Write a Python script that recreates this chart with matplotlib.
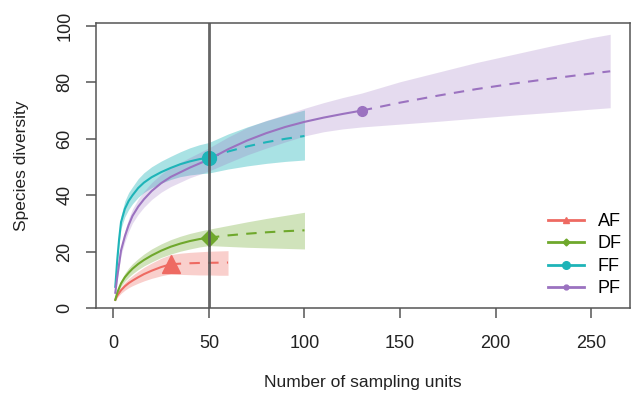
import numpy as np
import matplotlib
matplotlib.use("Agg")
import matplotlib.pyplot as plt
from matplotlib.lines import Line2D

plt.rcParams['font.family'] = ['Liberation Sans', 'DejaVu Sans']

# --- data: rarefaction (solid) up to the observed size, extrapolation (dashed) after ---
labels = ["AF", "DF", "FF", "PF"]
colors = ["#EE6A62", "#6FA82C", "#1EB4B8", "#9B72C0"]
band_alpha = [0.32, 0.32, 0.38, 0.25]
n_obs = [30, 50, 50, 130]

af_x = [1, 2, 4, 6, 8, 10, 13, 16, 20, 25, 30, 35, 40, 45, 50, 55, 60]
af_y = [3.0, 4.5, 6.4, 7.8, 8.9, 9.8, 11.0, 12.1, 13.3, 14.6, 15.6, 15.8, 15.95, 16.05, 16.1, 16.15, 16.2]
af_lo = [2.6, 3.8, 5.3, 6.4, 7.3, 8.0, 8.9, 9.7, 10.6, 11.5, 12.2, 12.0, 11.9, 11.8, 11.8, 11.7, 11.7]
af_hi = [3.4, 5.2, 7.5, 9.2, 10.5, 11.6, 13.1, 14.5, 16.0, 17.7, 19.0, 19.5, 19.8, 20.0, 20.2, 20.3, 20.4]

df_x = [1, 2, 4, 6, 8, 10, 13, 16, 20, 25, 30, 35, 40, 45, 50, 60, 70, 80, 90, 100]
df_y = [3.0, 5.5, 8.8, 11.0, 12.6, 14.0, 15.7, 17.1, 18.7, 20.4, 21.8, 22.9, 23.8, 24.5, 25.0,
        25.8, 26.4, 26.9, 27.3, 27.6]
df_lo = [2.6, 4.9, 7.8, 9.6, 11.0, 12.2, 13.7, 15.0, 16.4, 18.0, 19.2, 20.2, 21.0, 21.7, 22.2,
         21.9, 21.6, 21.4, 21.2, 21.0]
df_hi = [3.4, 6.2, 9.9, 12.4, 14.3, 15.8, 17.6, 19.2, 21.0, 22.8, 24.3, 25.5, 26.5, 27.3, 28.0,
         29.3, 30.6, 31.8, 32.9, 34.0]

ff_x = [1, 2, 3, 4, 6, 8, 10, 13, 16, 20, 25, 30, 35, 40, 45, 50, 60, 70, 80, 90, 100]
ff_y = [7.6, 17.0, 24.5, 30.5, 35.2, 38.0, 40.0, 42.6, 44.5, 46.4, 48.2, 49.7, 51.0, 52.0, 52.8, 53.3,
        55.5, 57.3, 58.8, 60.0, 61.0]
ff_lo = [7.0, 15.5, 22.5, 28.3, 32.4, 35.0, 37.0, 39.3, 41.0, 42.7, 44.3, 45.6, 46.6, 47.2, 47.6, 47.9,
         49.3, 50.4, 51.3, 52.0, 52.5]
ff_hi = [8.2, 18.5, 26.5, 32.7, 38.0, 41.0, 43.0, 45.9, 48.0, 50.1, 52.1, 53.8, 55.4, 56.8, 57.9, 58.7,
         61.7, 64.2, 66.4, 68.4, 70.2]

pf_x = [1, 2, 4, 6, 8, 10, 13, 16, 20, 25, 30, 40, 50, 60, 70, 80, 90, 100, 110, 120, 130,
        150, 170, 190, 210, 230, 250, 260]
pf_y = [5.5, 11.0, 20.5, 25.5, 29.5, 32.7, 36.0, 38.6, 41.5, 44.3, 46.5, 49.8, 52.7, 56.3, 59.4, 62.0,
        64.2, 66.0, 67.5, 68.8, 70.0, 72.8, 75.3, 77.6, 79.6, 81.4, 83.1, 83.9]
pf_lo = [5.0, 10.0, 18.8, 23.5, 27.2, 30.2, 33.3, 35.8, 38.5, 41.1, 43.1, 46.2, 48.6, 51.5, 54.3, 56.7,
         58.9, 61.0, 62.5, 63.5, 64.2, 65.2, 66.2, 67.3, 68.4, 69.4, 70.5, 71.0]
pf_hi = [6.0, 12.0, 22.2, 27.5, 31.8, 35.2, 38.7, 41.4, 44.5, 47.5, 49.9, 53.4, 56.8, 60.6, 64.0, 66.5,
         68.6, 70.8, 72.8, 74.6, 76.2, 80.2, 83.6, 87.0, 90.0, 93.0, 95.8, 97.0]

series = [
    (af_x, af_y, af_lo, af_hi),
    (df_x, df_y, df_lo, df_hi),
    (ff_x, ff_y, ff_lo, ff_hi),
    (pf_x, pf_y, pf_lo, pf_hi),
]
markers = ["^", "D", "o", "o"]
marker_sizes = [13, 8, 10, 7]
leg_marker_sizes = [5, 3.5, 5.5, 3.5]

fig = plt.figure(figsize=(6.33, 3.94), dpi=100)
ax = fig.add_axes([95.5 / 633, 1 - 308.3 / 394, (630 - 95.5) / 633, (308.3 - 22.7) / 394])

for (x, y, lo, hi), col, a in zip(series, colors, band_alpha):
    ax.fill_between(x, lo, hi, color=col, alpha=a, linewidth=0, zorder=1)

for (x, y, lo, hi), col, n, m, ms in zip(series, colors, n_obs, markers, marker_sizes):
    x = np.array(x)
    y = np.array(y)
    inter = x <= n
    extra = x >= n
    ax.plot(x[inter], y[inter], color=col, lw=1.5, zorder=3)
    ax.plot(x[extra], y[extra], color=col, lw=1.5, ls=(0, (5, 4)), zorder=3)
    ax.plot([n], [y[x == n][0]], marker=m, color=col, ms=ms, mec=col, zorder=4)

ax.axvline(50, color="#555555", lw=2, zorder=5, alpha=0.9)

ax.set_xlim(-9.36, 270.36)
ax.set_ylim(0, 101.1)
ax.set_xticks([0, 50, 100, 150, 200, 250])
ax.set_yticks([0, 20, 40, 60, 80, 100])
ax.tick_params(axis="both", length=7, width=1.1, color="#555555", labelsize=13,
               labelcolor="#222222")
ax.tick_params(axis="x", pad=12)
ax.tick_params(axis="y", pad=9)
for lab in ax.get_yticklabels():
    lab.set_rotation(90)
    lab.set_va("center")
for sp in ax.spines.values():
    sp.set_color("#555555")
    sp.set_linewidth(1.1)

ax.set_xlabel("Number of sampling units", fontsize=12.5, color="#222222")
ax.set_ylabel("Species diversity", fontsize=12.5, color="#222222")
ax.xaxis.set_label_coords(0.5, -0.233)
ax.yaxis.set_label_coords(-0.125, 0.5)

handles = [Line2D([0], [0], color=c, lw=2, marker=m, ms=ms, mec=c)
           for c, m, ms in zip(colors, markers, leg_marker_sizes)]
ax.legend(handles, labels, loc="upper left", bbox_to_anchor=(548.3 / 633, (394 - 213) / 394),
          bbox_transform=fig.transFigure, frameon=False, fontsize=13, borderpad=0,
          borderaxespad=0, handlelength=2.0, handletextpad=0.75, labelspacing=0.3)

fig.savefig("out.png", dpi=100)
